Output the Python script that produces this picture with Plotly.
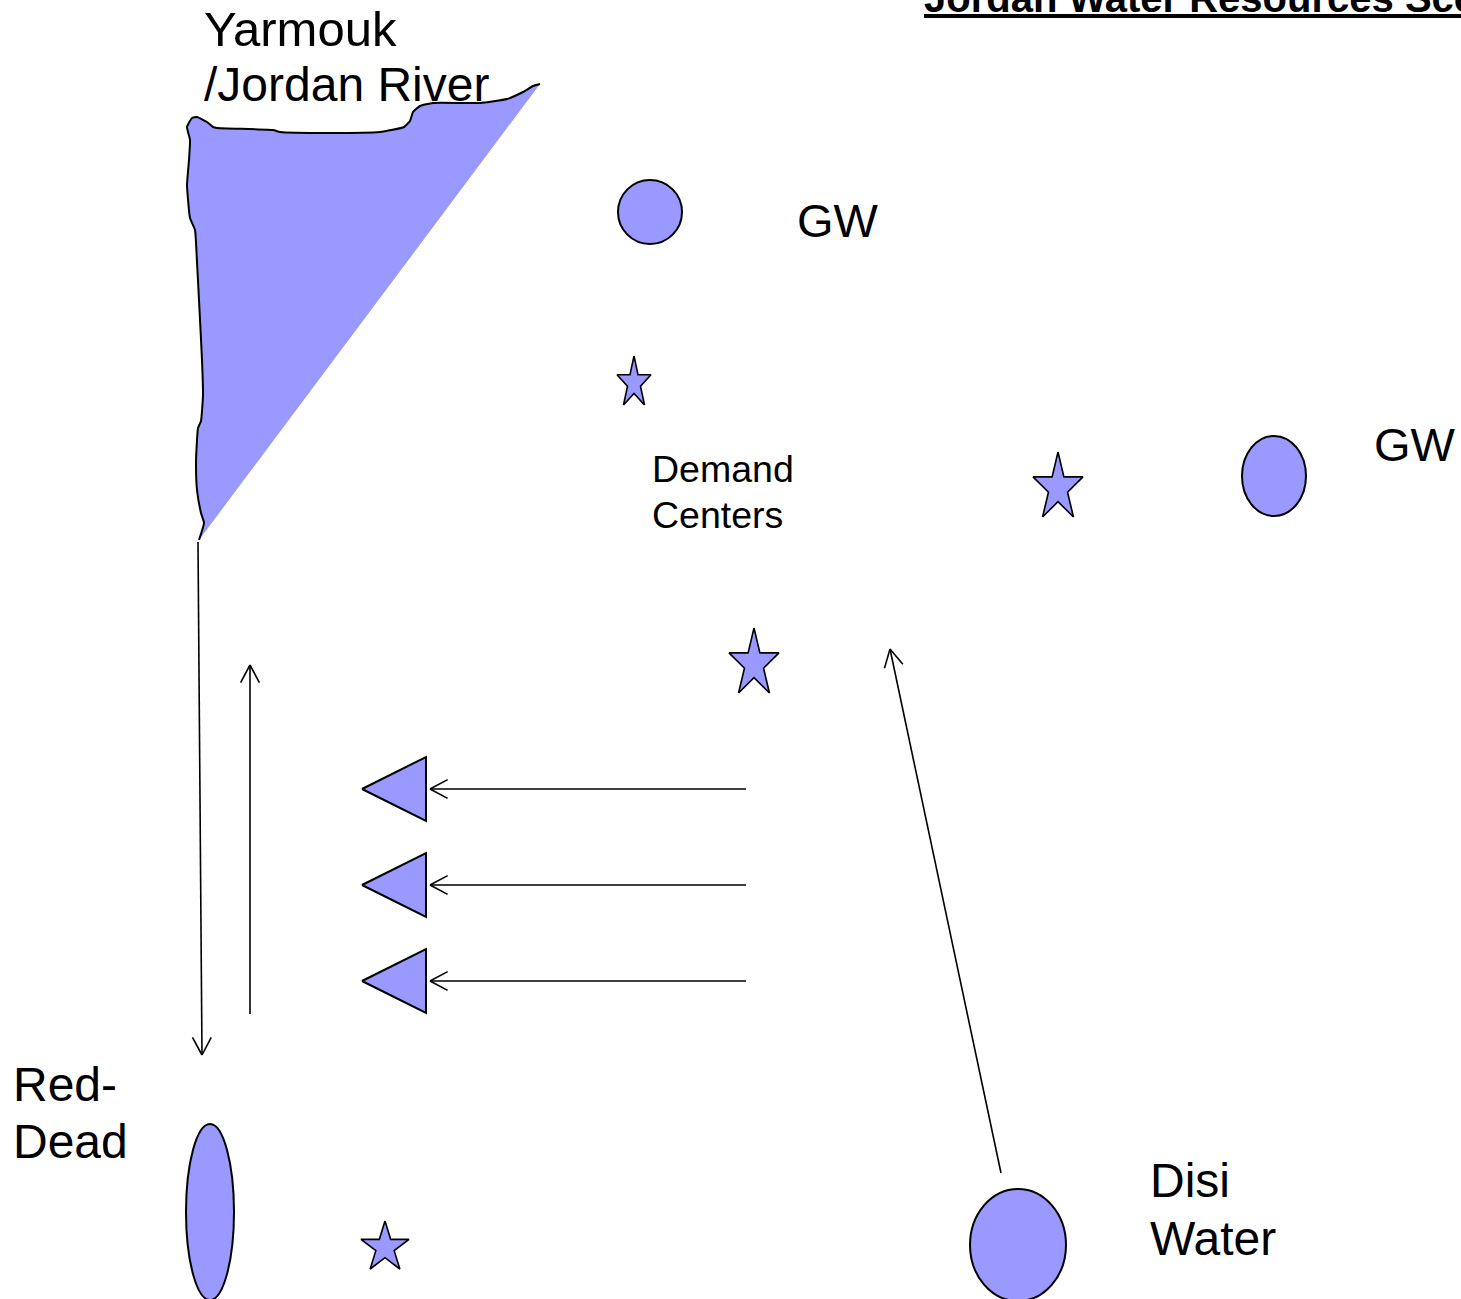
import numpy as np
import plotly.graph_objects as go

W, H = 1461, 1299
FILL = "#9999FF"
FONT = "Liberation Sans, Arial, sans-serif"

# ---- data -------------------------------------------------------------
# River (Yarmouk / Jordan) bank outline, from southern tip to north-east tip
river_x = [199, 204, 201, 197, 196, 197, 198, 201, 203, 202, 199, 197, 195, 190, 187, 189, 190, 187,
           192, 197, 207, 213, 217, 273, 280, 330, 380, 404, 410, 413, 420, 433, 480, 507, 523, 533, 540]
river_y = [540, 523, 513, 490, 463, 440, 428, 421, 395, 360, 300, 262, 230, 218, 185, 160, 140, 127,
           118, 117, 122, 127, 128, 130, 132, 133, 132, 127, 121, 112, 106, 103, 103, 99, 92, 86, 84]

# Water sources (ellipses): GW north, GW east, Disi, Red-Dead
src_names = ["GW", "GW", "Disi", "Red-Dead"]
src_cx = [650, 1274, 1018, 210]
src_cy = [212, 476, 1245, 1212]
src_rx = [32, 32, 48, 24]
src_ry = [32, 40, 56, 88]

# Demand centres (stars)
star_cx = [634, 1058, 754, 385]
star_top = [356, 452, 628, 1221]
star_w = [34, 50, 50, 48]
star_h = [49, 65, 65, 48]

# Outflow triangles
tri_tip_x = [362, 362, 362]
tri_base_x = [426, 426, 426]
tri_y = [789, 885, 981]
tri_half = 32

# Flow arrows (from -> to)
arr_x0 = [198, 250, 746, 746, 746, 1001]
arr_y0 = [542, 1014, 789, 885, 981, 1173]
arr_x1 = [202, 250, 430, 430, 430, 890]
arr_y1 = [1055, 665, 789, 885, 981, 649]

# Labels: text, left x, baseline y, size
lab_text = ["Yarmouk", "/Jordan River", "GW", "Demand", "Centers", "GW",
            "Red-", "Dead", "Disi", "Water"]
lab_x = [205, 205, 798, 653, 653, 1375, 14, 14, 1151, 1151]
lab_base = [46, 101, 237, 482, 528, 461, 1101, 1158, 1197, 1255]
lab_size = [49, 48, 47, 37.5, 37.5, 47, 48, 48, 48, 48]

title_text = "Jordan Water Resources Scenarios"

# ---- figure -----------------------------------------------------------
fig = go.Figure()

# river fill (no outline on the diagonal edge)
fig.add_trace(go.Scatter(x=river_x + [river_x[0]], y=river_y + [river_y[0]], mode="lines",
                         fill="toself", fillcolor=FILL, line=dict(width=0), hoverinfo="skip"))
fig.add_trace(go.Scatter(x=river_x, y=river_y, mode="lines", line_shape="spline",
                         line=dict(color="black", width=2, smoothing=0.4), hoverinfo="skip"))

# stars
ang = np.deg2rad(np.arange(10) * 36.0)
rad = np.where(np.arange(10) % 2 == 0, 1.0, 0.382)
ux = rad * np.sin(ang)
uy = -rad * np.cos(ang)
for cx, top, w, h in zip(star_cx, star_top, star_w, star_h):
    sx = w / 1.902
    sy = h / 1.809
    cy = top + sy
    xs = list(cx + sx * ux) + [cx + sx * ux[0]]
    ys = list(cy + sy * uy) + [cy + sy * uy[0]]
    fig.add_trace(go.Scatter(x=xs, y=ys, mode="lines", fill="toself", fillcolor=FILL,
                             line=dict(color="black", width=1.6), hoverinfo="skip"))

# triangles
for tx, bx, ty in zip(tri_tip_x, tri_base_x, tri_y):
    fig.add_trace(go.Scatter(x=[tx, bx, bx, tx], y=[ty, ty - tri_half, ty + tri_half, ty],
                             mode="lines", fill="toself", fillcolor=FILL,
                             line=dict(color="black", width=2), hoverinfo="skip"))

# arrows with open V heads
ax, ay = [], []
head_len, head_ang = 20.0, np.deg2rad(28)
for x0, y0, x1, y1 in zip(arr_x0, arr_y0, arr_x1, arr_y1):
    d = np.array([x1 - x0, y1 - y0], dtype=float)
    d /= np.linalg.norm(d)
    ax += [x0, x1, None]
    ay += [y0, y1, None]
    for s in (1, -1):
        c, sn = np.cos(s * head_ang), np.sin(s * head_ang)
        bx = -(c * d[0] - sn * d[1])
        by = -(sn * d[0] + c * d[1])
        ax += [x1, x1 + head_len * bx, None]
        ay += [y1, y1 + head_len * by, None]
fig.add_trace(go.Scatter(x=ax, y=ay, mode="lines", line=dict(color="black", width=1.6),
                         hoverinfo="skip"))

# source ellipses
for cx, cy, rx, ry in zip(src_cx, src_cy, src_rx, src_ry):
    fig.add_shape(type="circle", xref="x", yref="y", x0=cx - rx, x1=cx + rx,
                  y0=cy - ry, y1=cy + ry, fillcolor=FILL, line=dict(color="black", width=2))

# labels (anchored at the bottom of the text box so none falls outside the axis range)
for t, x, b, s in zip(lab_text, lab_x, lab_base, lab_size):
    fig.add_annotation(x=x - 3, y=b + 0.212 * s + 2, xref="x", yref="y", text=t,
                       showarrow=False, xanchor="left", yanchor="bottom",
                       font=dict(family=FONT, size=s, color="black"))

# title (mostly cut off at the top edge, as in the slide)
TS = 40
fig.add_annotation(x=(925 - 3) / W, y=1 - (12 + 0.212 * TS + 2) / H, xref="paper", yref="paper",
                   text="<b><u>" + title_text + "</u></b>", showarrow=False,
                   xanchor="left", yanchor="bottom",
                   font=dict(family=FONT, size=TS, color="black"))

fig.update_layout(width=W, height=H, margin=dict(l=0, r=0, t=0, b=0),
                  paper_bgcolor="white", plot_bgcolor="white", showlegend=False,
                  xaxis=dict(range=[0, W], visible=False, fixedrange=True),
                  yaxis=dict(range=[H, 0], visible=False, fixedrange=True))

fig.write_html("out.html", config={"displayModeBar": False},
               post_script="document.body.style.margin='0';document.body.style.overflow='hidden';")
